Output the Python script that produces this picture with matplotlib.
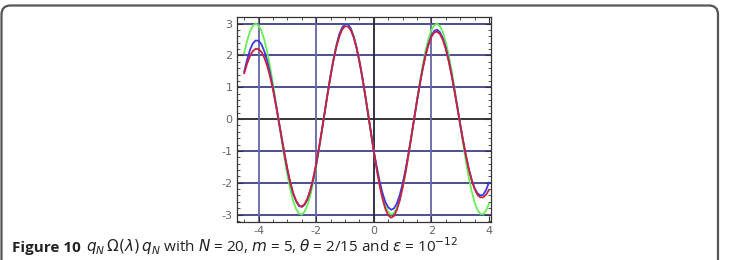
import matplotlib
matplotlib.use("Agg")
import matplotlib.pyplot as plt
from matplotlib.patches import FancyBboxPatch
from matplotlib.transforms import IdentityTransform
from matplotlib.ticker import MultipleLocator

plt.rcParams["axes.unicode_minus"] = False

# lambda values, step 0.1 from -4.5 to 4.0
lam = [round(-4.5 + 0.1 * i, 1) for i in range(86)]

green = [2.07, 2.46, 2.75, 2.94, 3.00, 2.94, 2.77, 2.49, 2.11, 1.64,
         1.11, 0.53, -0.06, -0.66, -1.23, -1.76, -2.20, -2.57, -2.82, -2.97,
         -3.00, -2.91, -2.70, -2.39, -1.98, -1.49, -0.95, -0.36, 0.24, 0.83,
         1.39, 1.89, 2.31, 2.65, 2.87, 2.99, 2.98, 2.86, 2.62, 2.28,
         1.84, 1.34, 0.78, 0.18, -0.41, -1.00, -1.54, -2.02, -2.42, -2.72,
         -2.92, -3.00, -2.96, -2.80, -2.53, -2.16, -1.70, -1.18, -0.61, -0.01,
         0.59, 1.16, 1.69, 2.15, 2.52, 2.79, 2.95, 3.00, 2.92, 2.73,
         2.43, 2.03, 1.55, 1.01, 0.43, -0.17, -0.76, -1.32, -1.83, -2.26,
         -2.61, -2.85, -2.98, -2.99, -2.88, -2.66]

blue = [1.49, 1.86, 2.17, 2.38, 2.47, 2.46, 2.35, 2.13, 1.83, 1.43,
        0.98, 0.47, -0.06, -0.59, -1.11, -1.59, -2.01, -2.34, -2.58, -2.73,
        -2.76, -2.69, -2.52, -2.24, -1.88, -1.43, -0.91, -0.35, 0.23, 0.82,
        1.37, 1.87, 2.30, 2.65, 2.87, 2.99, 2.98, 2.85, 2.60, 2.25,
        1.82, 1.32, 0.76, 0.18, -0.40, -1.00, -1.48, -1.94, -2.31, -2.60,
        -2.77, -2.85, -2.81, -2.66, -2.40, -2.04, -1.61, -1.11, -0.57, -0.01,
        0.55, 1.09, 1.58, 2.02, 2.36, 2.62, 2.77, 2.81, 2.73, 2.54,
        2.25, 1.87, 1.42, 0.92, 0.39, -0.15, -0.66, -1.14, -1.56, -1.90,
        -2.16, -2.33, -2.40, -2.38, -2.23, -2.00]

red = [1.44, 1.74, 1.98, 2.14, 2.21, 2.20, 2.11, 1.93, 1.67, 1.33,
       0.92, 0.45, -0.06, -0.57, -1.08, -1.56, -1.98, -2.32, -2.56, -2.71,
       -2.75, -2.67, -2.49, -2.22, -1.85, -1.41, -0.90, -0.34, 0.23, 0.80,
       1.34, 1.84, 2.26, 2.58, 2.81, 2.92, 2.91, 2.80, 2.58, 2.25,
       1.83, 1.34, 0.78, 0.19, -0.42, -1.00, -1.57, -2.07, -2.49, -2.81,
       -3.02, -3.10, -3.05, -2.86, -2.57, -2.17, -1.70, -1.16, -0.59, -0.01,
       0.56, 1.10, 1.58, 2.00, 2.33, 2.58, 2.72, 2.75, 2.67, 2.49,
       2.20, 1.83, 1.39, 0.90, 0.38, -0.14, -0.66, -1.13, -1.56, -1.92,
       -2.19, -2.38, -2.46, -2.46, -2.38, -2.23]

xticks = [-4, -2, 0, 2, 4]
yticks = [-3, -2, -1, 0, 1, 2, 3]
cap_label = "Figure 10"
cap_text = (r"$q_N\,\Omega(\lambda)\,q_N$ with $N$ = 20, $m$ = 5, "
            r"$\theta$ = 2/15 and $\varepsilon$ = 10$^{-12}$")

fig = plt.figure(figsize=(7.29, 2.60), dpi=100)
fig.patch.set_facecolor("white")

# rounded frame around the figure panel
frame = FancyBboxPatch((1.5, -30), 716.5, 284.5, boxstyle="round,pad=0,rounding_size=9",
                       transform=IdentityTransform(), fill=False,
                       edgecolor="#555555", linewidth=1.6)
fig.patches.append(frame)

ax = fig.add_axes([0.3247, 0.148, 0.3495, 0.7855])

# grid lines
for y in yticks:
    ax.axhline(y, color="black" if y == 0 else "#1c1c78", lw=1.1, zorder=1)
for x in [-4, -2, 2]:
    ax.axvline(x, color="#6464a8", lw=1.3, zorder=1)
ax.axvline(0, color="#22223a", lw=1.3, zorder=1)

ax.plot(lam, green, color="#66ee55", lw=1.3, zorder=3)
ax.plot(lam, blue, color="#3a3ae0", lw=1.3, zorder=4)
ax.plot(lam, red, color="#cc2040", lw=1.3, zorder=5)

ax.set_xlim(-4.76, 4.09)
ax.set_ylim(-3.22, 3.20)
ax.set_xticks(xticks)
ax.set_yticks(yticks)
ax.xaxis.set_minor_locator(MultipleLocator(0.5))
ax.yaxis.set_minor_locator(MultipleLocator(0.2))
ax.tick_params(which="both", direction="in", top=True, right=True,
               labelsize=8, labelcolor="#666666", color="#333333", pad=3)
ax.tick_params(which="major", length=4, width=0.8)
ax.tick_params(which="minor", length=2, width=0.6)
for s in ax.spines.values():
    s.set_color("#333333")
    s.set_linewidth(0.9)

# caption: bold label followed by the description
t1 = fig.text(0.016, 0.03, cap_label, fontsize=11, family="Open Sans",
              weight="bold", ha="left", va="baseline", color="#222222")
fig.canvas.draw()
bb = t1.get_window_extent()
x2 = (bb.x1 + 6) / fig.bbox.width
fig.text(x2, 0.03, cap_text, fontsize=11, family="Open Sans",
         ha="left", va="baseline", color="#222222")

fig.savefig("out.png", dpi=100)
